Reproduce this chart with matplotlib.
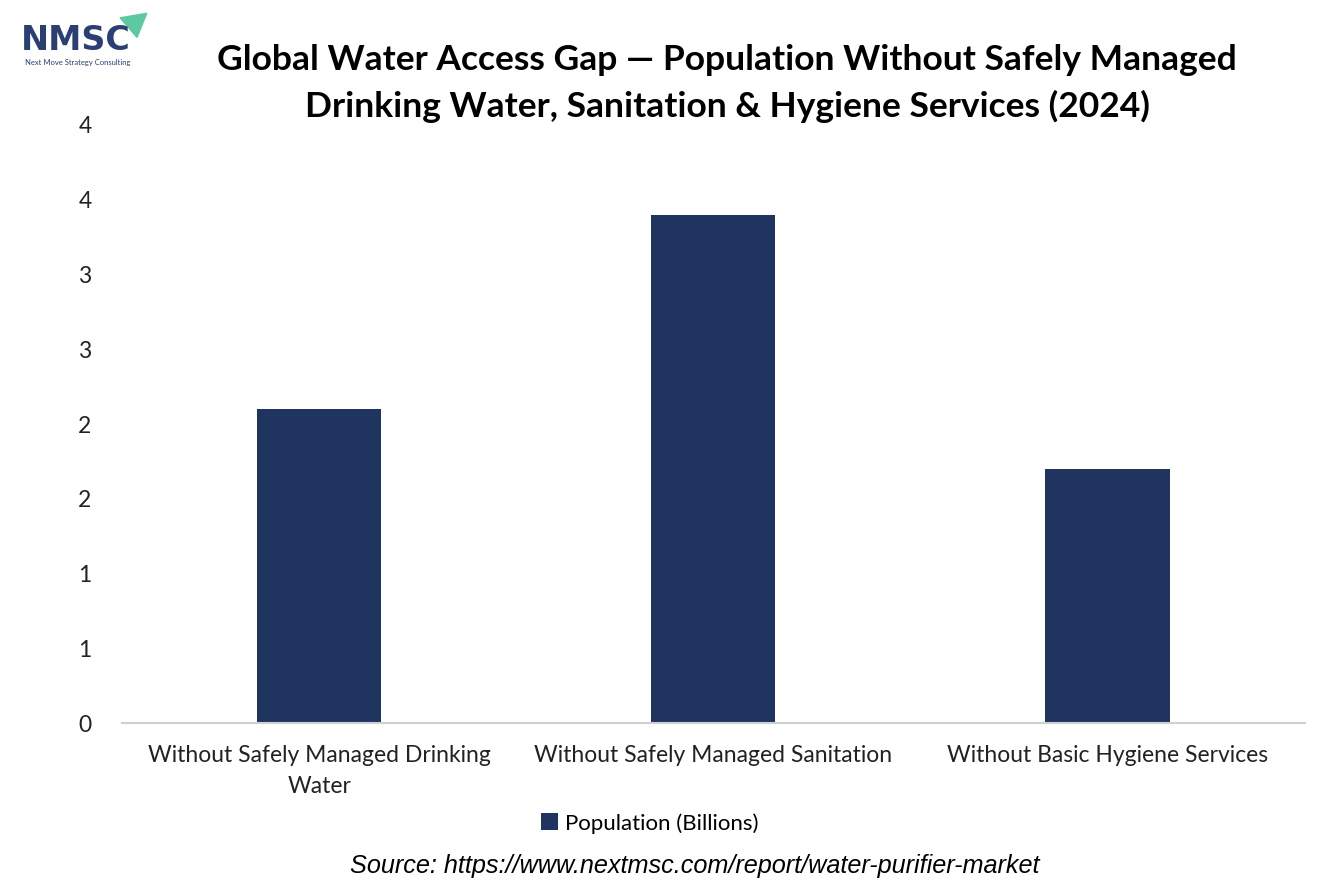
import matplotlib.pyplot as plt
from matplotlib.patches import Polygon
import numpy as np

categories = ['Without Safely Managed Drinking\nWater',
              'Without Safely Managed Sanitation',
              'Without Basic Hygiene Services']
population = [2.1, 3.4, 1.7]
yticks = [0, 0.5, 1.0, 1.5, 2.0, 2.5, 3.0, 3.5, 4.0]
ytick_labels = ['0', '1', '1', '2', '2', '3', '3', '4', '4']
series_name = 'Population (Billions)'


def main():
    plt.rcParams['font.family'] = ['Lato', 'DejaVu Sans']
    navy = '#1f3560'

    fig = plt.figure(figsize=(13.34, 8.89), dpi=100)
    ax = fig.add_axes([0.0915, 0.1867, 0.8865, 0.6727])

    x = np.arange(len(categories))
    ax.bar(x, population, width=0.315, color=navy, label=series_name)

    ax.set_xlim(-0.5, 2.5)
    ax.set_ylim(0, 4)
    ax.set_yticks(yticks)
    ax.set_yticklabels(ytick_labels, fontsize=16.5, color='#222222')
    ax.set_xticks(x)
    ax.set_xticklabels(categories, fontsize=16.5, color='#222222', linespacing=1.55)
    ax.tick_params(axis='both', length=0)
    ax.tick_params(axis='y', pad=22)
    ax.tick_params(axis='x', pad=16)
    for s in ['top', 'right', 'left']:
        ax.spines[s].set_visible(False)
    ax.spines['bottom'].set_color('#d0d0d0')
    ax.spines['bottom'].set_linewidth(1.5)

    fig.text(0.545, 0.906, 'Global Water Access Gap \u2014 Population Without Safely Managed\n'
             'Drinking Water, Sanitation & Hygiene Services (2024)',
             ha='center', va='center', fontsize=25.5, fontweight='bold', linespacing=1.5)

    fig.legend(loc='center', bbox_to_anchor=(0.487, 0.074), frameon=False, fontsize=16,
               handlelength=0.8, handleheight=0.8, handletextpad=0.3)

    fig.text(0.521, 0.026, 'Source: https://www.nextmsc.com/report/water-purifier-market',
             ha='center', va='center', fontsize=18.2, style='italic', family='Liberation Sans')

    # logo
    fig.text(0.016, 0.954, 'NMSC', fontsize=24, fontweight='bold', color='#2b3f73',
             family='DejaVu Sans', ha='left', va='center')
    fig.text(0.019, 0.930, 'Next Move Strategy Consulting', fontsize=5.5, color='#2b3f73',
             ha='left', va='center')
    tri = Polygon([[0.090, 0.980], [0.110, 0.985], [0.1027, 0.958]], closed=True,
                  transform=fig.transFigure, color='#5cc9a0')
    fig.patches.append(tri)

    fig.savefig('out.png', dpi=100)


if __name__ == '__main__':
    main()
